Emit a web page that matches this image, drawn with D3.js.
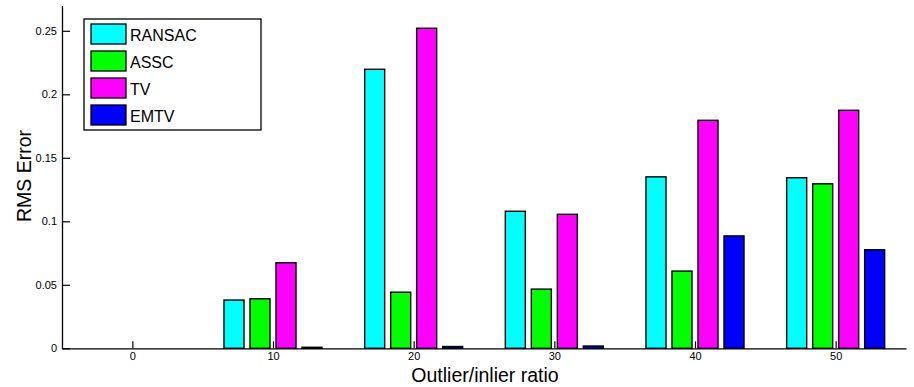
<!DOCTYPE html>
<html>
<head>
<meta charset="utf-8">
<script src="https://cdn.jsdelivr.net/npm/d3@7"></script>
<style>
  body { margin: 0; background: #fff; }
  svg { font-family: "Liberation Sans", Arial, sans-serif; }
</style>
</head>
<body>
<div id="chart"></div>
<script>
const ratios = [0, 10, 20, 30, 40, 50];
const methods = ["RANSAC", "ASSC", "TV", "EMTV"];
const colors = ["#00ffff", "#00ff00", "#ff00ff", "#0000ff"];
const ransac = [0, 0.038, 0.2197, 0.1079, 0.135, 0.1343];
const assc = [0, 0.039, 0.0442, 0.0466, 0.0608, 0.1295];
const tv = [0, 0.0674, 0.252, 0.1055, 0.1795, 0.1874];
const emtv = [0, 0.0008, 0.0014, 0.0018, 0.0885, 0.0776];
const yTicks = [0, 0.05, 0.1, 0.15, 0.2, 0.25];

const series = [ransac, assc, tv, emtv];
const width = 914, height = 387;

const svg = d3.select("#chart")
  .append("svg")
  .attr("width", width)
  .attr("height", height);

const x = d3.scaleLinear()
  .domain([-5, 55])
  .range([62, 906]);

const y = d3.scaleLinear()
  .domain([0, 0.27])
  .range([348.3, 5.4]);

// bars inside each group, in pixels around the group centre
const inner = d3.scaleBand()
  .domain(methods)
  .range([-52, 52])
  .paddingInner(0.23)
  .paddingOuter(0.115);

const groups = svg.selectAll(".group")
  .data(ratios)
  .enter()
  .append("g")
  .attr("class", "group")
  .attr("transform", r => `translate(${x(r)},0)`);

groups.selectAll("rect")
  .data((r, i) => methods.map((m, j) => ({ m: m, j: j, v: series[j][i] })))
  .enter()
  .append("rect")
  .attr("x", d => inner(d.m))
  .attr("width", inner.bandwidth())
  .attr("y", d => y(d.v))
  .attr("height", d => y(0) - y(d.v))
  .attr("fill", d => colors[d.j])
  .attr("stroke", "#000")
  .attr("stroke-width", 1.4);

// axes (MATLAB style: ticks inside, only left and bottom)
const xAxis = svg.append("g")
  .attr("transform", `translate(0,${y(0)})`)
  .call(d3.axisBottom(x).tickValues(ratios).tickSizeInner(-7).tickSizeOuter(0).tickPadding(4));

const yAxis = svg.append("g")
  .attr("transform", `translate(${x(-5)},0)`)
  .call(d3.axisLeft(y).tickValues(yTicks).tickFormat(d => d3.format("")(d)).tickSizeInner(-8).tickSizeOuter(0).tickPadding(5));

[xAxis, yAxis].forEach(a => {
  a.select(".domain").attr("stroke", "#000").attr("stroke-width", 1.3);
  a.selectAll(".tick line").attr("stroke", "#000").attr("stroke-width", 1.2);
  a.selectAll("text").attr("font-size", 11).attr("fill", "#000")
    .attr("font-family", "Liberation Sans, Arial, sans-serif");
});

svg.append("text")
  .attr("x", 485)
  .attr("y", 381.5)
  .attr("text-anchor", "middle")
  .attr("font-size", 19.5)
  .text("Outlier/inlier ratio");

svg.append("text")
  .attr("transform", "translate(31,176) rotate(-90)")
  .attr("text-anchor", "middle")
  .attr("font-size", 19.5)
  .text("RMS Error");

// legend
const legend = svg.append("g").attr("transform", "translate(84,19)");

legend.append("rect")
  .attr("width", 177)
  .attr("height", 111)
  .attr("fill", "#fff")
  .attr("stroke", "#000")
  .attr("stroke-width", 1.3);

const items = legend.selectAll(".item")
  .data(methods)
  .enter()
  .append("g")
  .attr("class", "item")
  .attr("transform", (d, i) => `translate(7,${5 + i * 27})`);

items.append("rect")
  .attr("width", 35)
  .attr("height", 20)
  .attr("fill", (d, i) => colors[i])
  .attr("stroke", "#000")
  .attr("stroke-width", 1.3);

items.append("text")
  .attr("x", 39)
  .attr("y", 16.5)
  .attr("font-size", 16)
  .text(d => d);
</script>
</body>
</html>
